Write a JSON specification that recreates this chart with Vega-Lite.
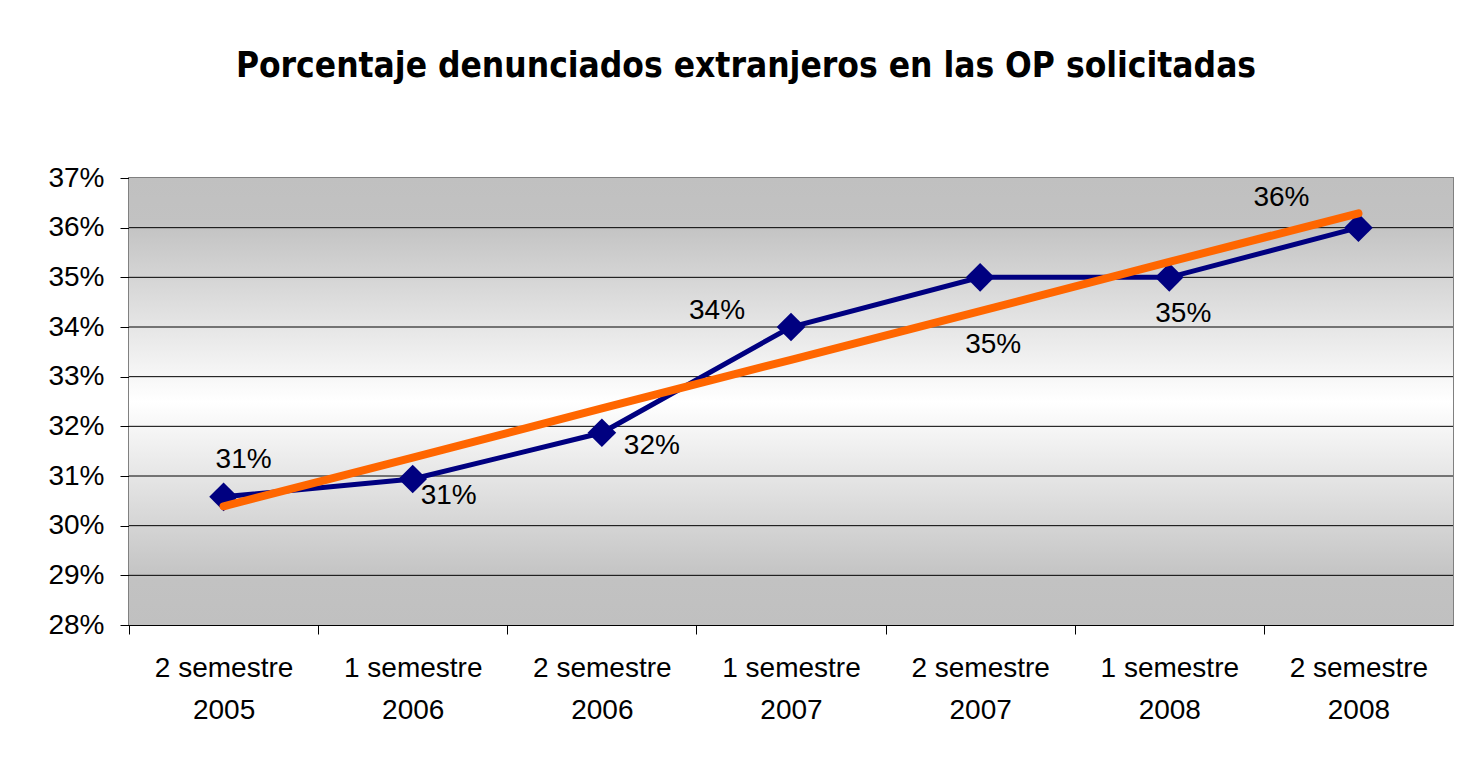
{
  "$schema": "https://vega.github.io/schema/vega-lite/v6.json",
  "autosize": {"type": "none"},
  "width": 1324,
  "height": 447,
  "padding": {"left": 129, "top": 178, "right": 6, "bottom": 141},
  "background": "white",
  "title": {
    "text": "Porcentaje denunciados extranjeros en las OP solicitadas",
    "font": "DejaVu Sans Condensed",
    "fontSize": 35,
    "fontWeight": "bold",
    "color": "black",
    "anchor": "middle",
    "dx": -45,
    "offset": 80
  },
  "config": {
    "view": {"stroke": "#808080", "strokeWidth": 2},
    "font": "Liberation Sans",
    "axis": {"labelFont": "Liberation Sans", "labelColor": "black", "labelFontSize": 28}
  },
  "data": {
    "values": [
      {"periodo": "2 semestre 2005", "valor": 0.3058, "tendencia": 0.3039},
      {"periodo": "1 semestre 2006", "valor": 0.3094, "tendencia": 0.3137},
      {"periodo": "2 semestre 2006", "valor": 0.3187, "tendencia": 0.3236},
      {"periodo": "1 semestre 2007", "valor": 0.3400, "tendencia": 0.3334},
      {"periodo": "2 semestre 2007", "valor": 0.3500, "tendencia": 0.3432},
      {"periodo": "1 semestre 2008", "valor": 0.3500, "tendencia": 0.3531},
      {"periodo": "2 semestre 2008", "valor": 0.3600, "tendencia": 0.3629}
    ]
  },
  "encoding": {
    "x": {
      "field": "periodo", "type": "nominal", "sort": null,
      "scale": {"paddingInner": 0, "paddingOuter": 0},
      "axis": {
        "title": null, "labelAngle": 0,
        "labelExpr": "[slice(datum.value, 0, 10), slice(datum.value, 11)]",
        "labelLineHeight": 42, "labelPadding": 20,
        "tickOffset": -94.57, "labelOffset": 94.57,
        "tickSize": 9, "tickColor": "black", "domainColor": "black", "domainWidth": 1,
        "grid": false
      }
    }
  },
  "layer": [
    {
      "data": {"values": [{"fondo": 1}]},
      "mark": {
        "type": "rect",
        "fill": {
          "gradient": "linear", "x1": 0, "y1": 0, "x2": 0, "y2": 1,
          "stops": [
            {"offset": 0, "color": "#c0c0c0"},
            {"offset": 0.1, "color": "#c2c2c2"},
            {"offset": 0.5, "color": "#ffffff"},
            {"offset": 0.9, "color": "#c2c2c2"},
            {"offset": 1, "color": "#c0c0c0"}
          ]
        }
      },
      "encoding": {
        "x": {"value": 0},
        "x2": {"value": "width"},
        "y": {"datum": 0.37, "type": "quantitative"},
        "y2": {"datum": 0.28}
      }
    },
    {
      "data": {"values": [{"nivel": 0.29}, {"nivel": 0.30}, {"nivel": 0.31}, {"nivel": 0.32}, {"nivel": 0.33}, {"nivel": 0.34}, {"nivel": 0.35}, {"nivel": 0.36}]},
      "mark": {"type": "rule", "color": "black", "strokeWidth": 1},
      "encoding": {
        "x": {"value": 0},
        "x2": {"value": "width"},
        "y": {"field": "nivel", "type": "quantitative"}
      }
    },
    {
      "mark": {"type": "line", "color": "#000080", "strokeWidth": 5},
      "encoding": {
        "y": {
          "field": "valor", "type": "quantitative",
          "scale": {"domain": [0.28, 0.37], "nice": false, "zero": false},
          "axis": {
            "title": null, "format": ".0%",
            "values": [0.28, 0.29, 0.30, 0.31, 0.32, 0.33, 0.34, 0.35, 0.36, 0.37],
            "grid": false,
            "tickSize": 9, "tickColor": "black", "domainColor": "black", "domainWidth": 1,
            "labelPadding": 16
          }
        }
      }
    },
    {
      "mark": {"type": "point", "shape": "diamond", "filled": true, "size": 820, "color": "#000080", "opacity": 1},
      "encoding": {"y": {"field": "valor", "type": "quantitative"}}
    },
    {
      "mark": {"type": "line", "color": "#ff6600", "strokeWidth": 8, "strokeCap": "round"},
      "encoding": {"y": {"field": "tendencia", "type": "quantitative"}}
    },
    {
      "transform": [{"filter": "datum.periodo == '2 semestre 2005'"}],
      "mark": {"type": "text", "fontSize": 28, "color": "black", "dx": 20, "dy": -37, "baseline": "middle"},
      "encoding": {"y": {"field": "valor", "type": "quantitative"}, "text": {"field": "valor", "format": ".0%"}}
    },
    {
      "transform": [{"filter": "datum.periodo == '1 semestre 2006'"}],
      "mark": {"type": "text", "fontSize": 28, "color": "black", "dx": 36, "dy": 17, "baseline": "middle"},
      "encoding": {"y": {"field": "valor", "type": "quantitative"}, "text": {"field": "valor", "format": ".0%"}}
    },
    {
      "transform": [{"filter": "datum.periodo == '2 semestre 2006'"}],
      "mark": {"type": "text", "fontSize": 28, "color": "black", "dx": 50, "dy": 13, "baseline": "middle"},
      "encoding": {"y": {"field": "valor", "type": "quantitative"}, "text": {"field": "valor", "format": ".0%"}}
    },
    {
      "transform": [{"filter": "datum.periodo == '1 semestre 2007'"}],
      "mark": {"type": "text", "fontSize": 28, "color": "black", "dx": -74, "dy": -16, "baseline": "middle"},
      "encoding": {"y": {"field": "valor", "type": "quantitative"}, "text": {"field": "valor", "format": ".0%"}}
    },
    {
      "transform": [{"filter": "datum.periodo == '2 semestre 2007'"}],
      "mark": {"type": "text", "fontSize": 28, "color": "black", "dx": 13, "dy": 68, "baseline": "middle"},
      "encoding": {"y": {"field": "valor", "type": "quantitative"}, "text": {"field": "valor", "format": ".0%"}}
    },
    {
      "transform": [{"filter": "datum.periodo == '1 semestre 2008'"}],
      "mark": {"type": "text", "fontSize": 28, "color": "black", "dx": 14, "dy": 37, "baseline": "middle"},
      "encoding": {"y": {"field": "valor", "type": "quantitative"}, "text": {"field": "valor", "format": ".0%"}}
    },
    {
      "transform": [{"filter": "datum.periodo == '2 semestre 2008'"}],
      "mark": {"type": "text", "fontSize": 28, "color": "black", "dx": -77, "dy": -30, "baseline": "middle"},
      "encoding": {"y": {"field": "valor", "type": "quantitative"}, "text": {"field": "valor", "format": ".0%"}}
    }
  ]
}
